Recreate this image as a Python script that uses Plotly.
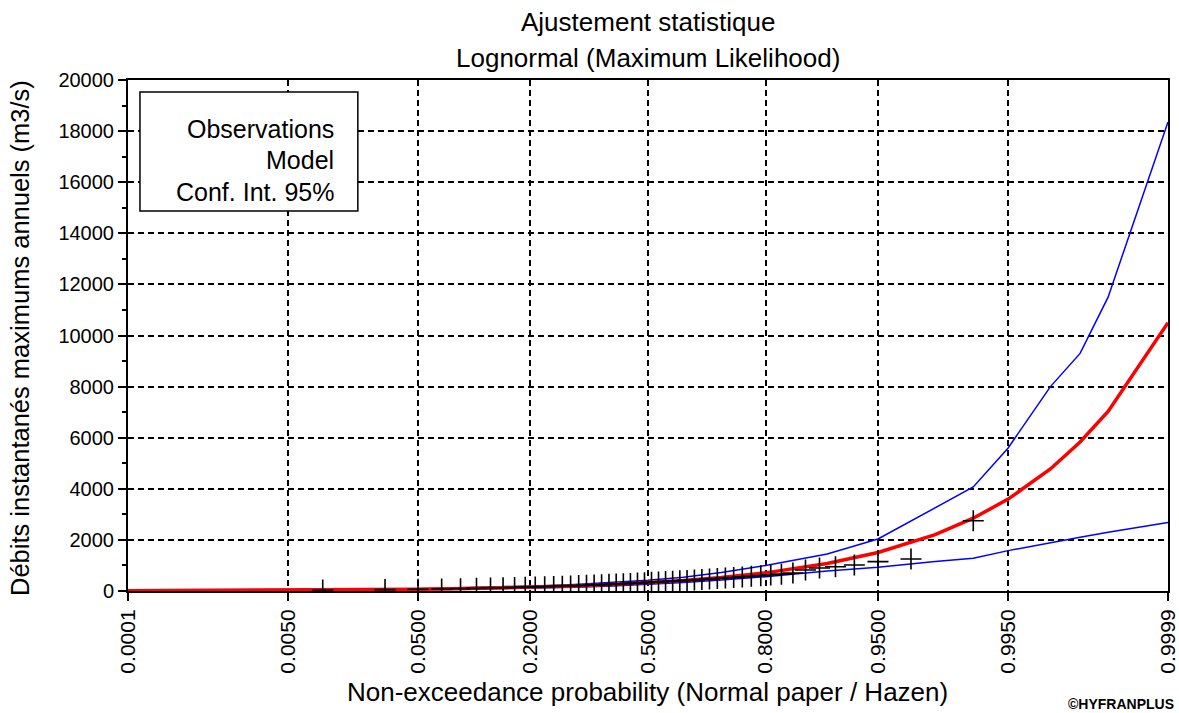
import plotly.graph_objects as go
from statistics import NormalDist

# ---------------- data ----------------
tick_probs = [0.0001, 0.005, 0.05, 0.2, 0.5, 0.8, 0.95, 0.995, 0.9999]
tick_labels = ["0.0001", "0.0050", "0.0500", "0.2000", "0.5000", "0.8000", "0.9500", "0.9950", "0.9999"]

# observations (Hazen plotting positions, n = 50)
obs_values = [40, 55, 68, 80, 92, 104, 116, 128, 140, 150,
              160, 170, 180, 190, 200, 212, 224, 236, 248, 260,
              272, 285, 298, 312, 326, 340, 355, 370, 385, 400,
              415, 432, 450, 468, 488, 508, 530, 552, 576, 600,
              625, 660, 700, 820, 900, 950, 1020, 1150, 1250, 2750]

curve_probs = [0.0001, 0.001, 0.01, 0.05, 0.1, 0.2, 0.3, 0.4, 0.5, 0.6, 0.7,
               0.8, 0.9, 0.95, 0.98, 0.99, 0.995, 0.998, 0.999, 0.9995, 0.9999]
model_values = [10, 18, 37, 69, 97, 147, 198, 255, 323, 410, 528,
                710, 1073, 1507, 2208, 2850, 3598, 4775, 5830, 7030, 10500]
upper_values = [14, 24, 48, 90, 125, 190, 255, 330, 420, 540, 720,
                1000, 1450, 2035, 3250, 4070, 5600, 8000, 9300, 11500, 18360]
lower_values = [6, 12, 27, 52, 72, 110, 150, 195, 250, 330, 430,
                560, 780, 927, 1150, 1280, 1580, 1900, 2100, 2300, 2680]

y_ticks = list(range(0, 20001, 2000))

# ---------------- helpers ----------------
nd = NormalDist()
def z(p):
    return nd.inv_cdf(p)

n_obs = len(obs_values)
obs_probs = [(i + 0.5) / n_obs for i in range(n_obs)]

FONT = "Liberation Sans, Arial, sans-serif"

fig = go.Figure()

fig.add_trace(go.Scatter(
    x=[z(p) for p in curve_probs], y=upper_values, mode="lines",
    line=dict(color="#0000ff", width=1.5), name="Conf. Int. 95%", showlegend=False))
fig.add_trace(go.Scatter(
    x=[z(p) for p in curve_probs], y=lower_values, mode="lines",
    line=dict(color="#0000ff", width=1.5), name="Conf. Int. 95% (lower)", showlegend=False))
fig.add_trace(go.Scatter(
    x=[z(p) for p in curve_probs], y=model_values, mode="lines",
    line=dict(color="#ff0000", width=3.5), name="Model", showlegend=False))
fig.add_trace(go.Scatter(
    x=[z(p) for p in obs_probs], y=obs_values, mode="markers",
    marker=dict(symbol="cross-thin-open", size=15, color="black",
                line=dict(color="black", width=1.6)),
    name="Observations", showlegend=False))

fig.update_layout(
    width=1179, height=713,
    margin=dict(l=128, r=11, t=80, b=122, autoexpand=False),
    paper_bgcolor="white", plot_bgcolor="white",
    font=dict(family=FONT, color="black", size=20),
    showlegend=False,
)

fig.update_xaxes(
    range=[z(0.0001), z(0.9999)],
    tickvals=[z(p) for p in tick_probs], ticktext=tick_labels,
    tickangle=-90, ticks="outside", ticklen=8, tickwidth=1.5, tickcolor="black",
    tickfont=dict(size=21), automargin=False,
    showline=True, linecolor="black", linewidth=2, mirror=True,
    showgrid=True, gridcolor="black", gridwidth=1.5, griddash="6px,4px",
    zeroline=False,
)
fig.update_yaxes(
    range=[0, 20000],
    tickvals=y_ticks, ticktext=[str(v) for v in y_ticks],
    ticks="outside", ticklen=8, tickwidth=1.5, tickcolor="black",
    tickfont=dict(size=20), automargin=False,
    minor=dict(dtick=1000, ticks="outside", ticklen=4, tickcolor="black", showgrid=False),
    showline=True, linecolor="black", linewidth=2, mirror=True,
    showgrid=True, gridcolor="black", gridwidth=1.5, griddash="6px,4px",
    zeroline=False,
)

# legend box (white, framed, no symbols)
fig.add_shape(type="rect", xref="paper", yref="paper",
              x0=0.0115, x1=0.221, y0=0.7436, y1=0.9765,
              fillcolor="white", line=dict(color="black", width=1.5), layer="above")
for txt, yy in [("Observations", 0.904), ("Model", 0.8434), ("Conf. Int. 95%", 0.7808)]:
    fig.add_annotation(text=txt, xref="paper", yref="paper", x=0.2, y=yy,
                       xanchor="right", yanchor="middle", showarrow=False,
                       font=dict(size=25))

# titles
fig.add_annotation(text="Ajustement statistique", xref="paper", yref="paper",
                   x=0.5, y=(591 - 22) / 511, xanchor="center", yanchor="middle",
                   showarrow=False, font=dict(size=26))
fig.add_annotation(text="Lognormal (Maximum Likelihood)", xref="paper", yref="paper",
                   x=0.5, y=(591 - 58) / 511, xanchor="center", yanchor="middle",
                   showarrow=False, font=dict(size=26))
fig.add_annotation(text="Non-exceedance probability (Normal paper / Hazen)",
                   xref="paper", yref="paper", x=(647 - 128) / 1040, y=(591 - 692) / 511,
                   xanchor="center", yanchor="middle", showarrow=False, font=dict(size=26))
fig.add_annotation(text="Débits instantanés maximums annuels (m3/s)",
                   xref="paper", yref="paper", x=(20 - 128) / 1040, y=(591 - 338) / 511,
                   xanchor="center", yanchor="middle", textangle=-90, showarrow=False,
                   font=dict(size=25.5))
fig.add_annotation(text="<b>©HYFRANPLUS</b>", xref="paper", yref="paper",
                   x=(1176 - 128) / 1040, y=(591 - 704) / 511,
                   xanchor="right", yanchor="middle", showarrow=False,
                   font=dict(size=14))

fig.write_html("out.html", config={"displayModeBar": False},
               post_script="document.body.style.margin='0';")
